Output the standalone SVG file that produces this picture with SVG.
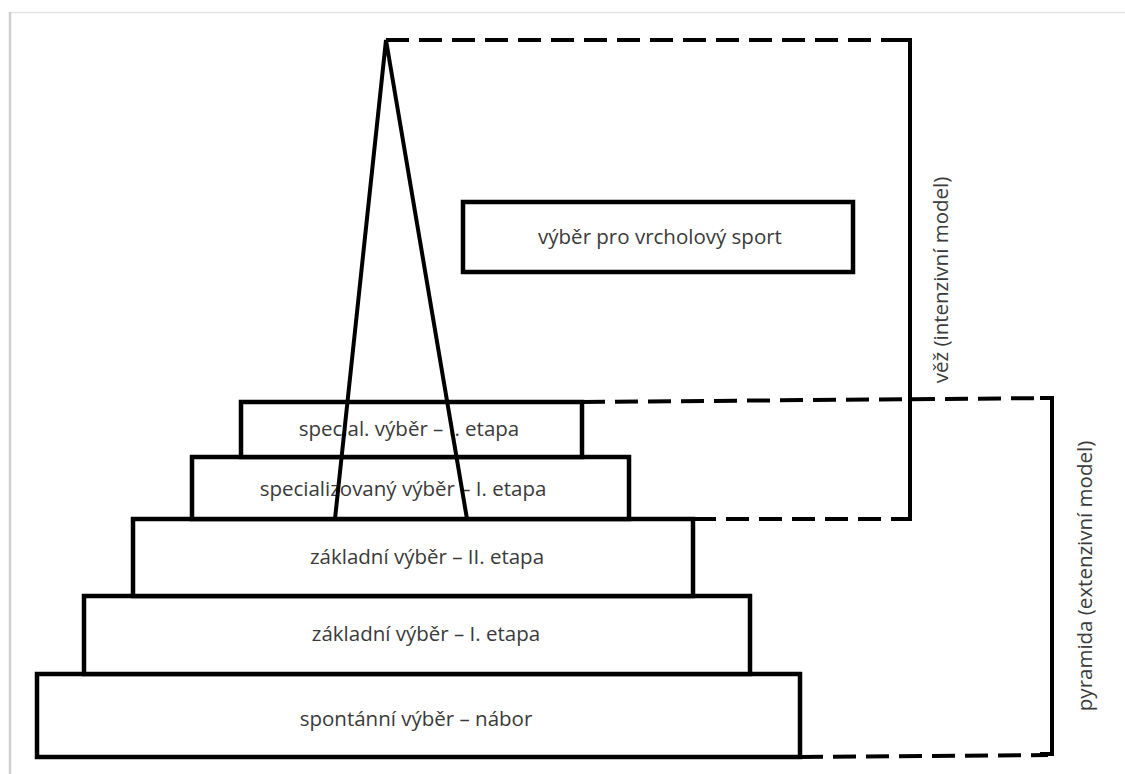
<svg xmlns="http://www.w3.org/2000/svg" width="1125" height="774" viewBox="0 0 1125 774">
<style>
.box{fill:#fff;stroke:#000;stroke-width:4.5}
.lbl{font-family:"Open Sans","Noto Sans",sans-serif;font-size:20.5px;fill:#3a3a3a;text-anchor:middle}
.solid{fill:none;stroke:#000;stroke-width:4;stroke-linejoin:miter}
.dash{fill:none;stroke:#000;stroke-width:4;stroke-dasharray:23 10}
</style>
<rect x="0" y="0" width="1125" height="774" fill="#fff"/>
<g id="page">
<line x1="10" y1="12.5" x2="1125" y2="12.5" stroke="#e2e2e2" stroke-width="1.5"/>
<line x1="10" y1="12" x2="10" y2="774" stroke="#cfcfcf" stroke-width="2.5"/>
</g>
<g id="top-box">
<rect class="box" x="463" y="202" width="390" height="70"/>
<text class="lbl" x="660" y="244">výběr pro vrcholový sport</text>
</g>
<g id="step5">
<rect class="box" x="37" y="674" width="763" height="83"/>
<text class="lbl" x="416" y="726">spontánní výběr – nábor</text>
</g>
<g id="step4">
<rect class="box" x="84" y="596" width="666" height="78"/>
<text class="lbl" x="426" y="641">základní výběr – I. etapa</text>
</g>
<g id="step3">
<rect class="box" x="133" y="519" width="560" height="77"/>
<text class="lbl" x="427" y="564">základní výběr – II. etapa</text>
</g>
<g id="step2">
<rect class="box" x="192" y="457" width="437" height="62"/>
<text class="lbl" x="403" y="496">specializovaný výběr – I. etapa</text>
</g>
<g id="step1">
<rect class="box" x="241" y="402" width="341" height="55"/>
<text class="lbl" x="409" y="436">special. výběr – I. etapa</text>
</g>
<g id="connectors">
<polyline class="solid" points="335,519 386,40 467,519"/>
<line class="dash" x1="386" y1="40" x2="910" y2="40"/>
<polyline class="solid" points="898,40 910,40 910,519 898,519"/>
<line class="dash" x1="693" y1="519" x2="905" y2="519"/>
<line class="dash" x1="582" y1="402" x2="1052" y2="398"/>
<polyline class="solid" points="1040,398 1052,398 1052,754 1040,754"/>
<line class="dash" x1="800" y1="757" x2="1048" y2="755"/>
</g>
<g id="labels">
<text class="lbl" transform="translate(948,280) rotate(-90)">věž (intenzivní model)</text>
<text class="lbl" transform="translate(1092,576) rotate(-90)">pyramida (extenzivní model)</text>
</g>
</svg>
